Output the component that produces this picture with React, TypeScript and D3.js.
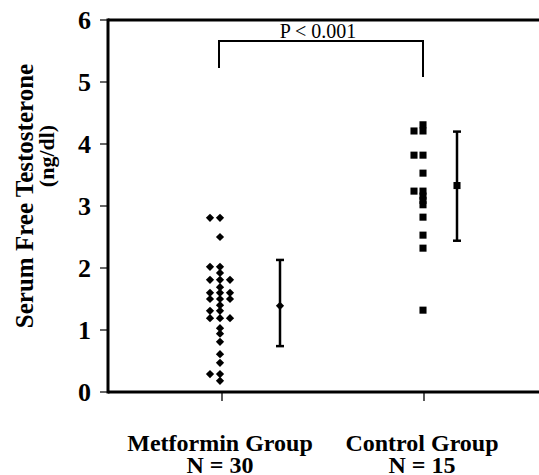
import React from "react";
import * as d3 from "d3";

const groups = ["Metformin Group", "Control Group"];
const groupN = ["N = 30", "N = 15"];
const yTicks = [0, 1, 2, 3, 4, 5, 6];

const metforminValues = [
  2.81, 2.81, 2.5, 2.02, 2.02, 1.92, 1.81, 1.81, 1.81, 1.69,
  1.6, 1.6, 1.6, 1.5, 1.5, 1.5, 1.4, 1.31, 1.31, 1.19,
  1.19, 1.19, 1.03, 0.94, 0.81, 0.61, 0.47, 0.29, 0.29, 0.18,
];
const controlValues = [
  4.31, 4.21, 4.21, 3.82, 3.82, 3.53, 3.24, 3.24, 3.16, 3.09,
  3.02, 2.82, 2.53, 2.32, 1.32,
];
const groupMeans = [1.39, 3.33];
const groupLow = [0.74, 2.44];
const groupHigh = [2.13, 4.2];
const pLabel = "P < 0.001";

const W = 539;
const H = 475;
const left = 108;
const top = 20;
const bottom = 392;

const serif = `"Liberation Serif"`;
const bold = { fontFamily: serif, fontWeight: "bold" } as React.CSSProperties;

export default function App() {
  const y = d3.scaleLinear().domain([0, 6]).range([bottom, top]);
  const x = d3.scalePoint<string>().domain(groups).range([221, 423]);
  const colStep = [10, 9];
  const errOffset = [59, 34];

  const place = (vals: number[]) => {
    const counts = new Map<number, number>();
    const order = [0, -1, 1, -2, 2];
    return vals.map((v) => {
      const c = counts.get(v) || 0;
      counts.set(v, c + 1);
      return { v, col: order[c] };
    });
  };
  const met = place(metforminValues);
  const con = place(controlValues);

  const diamond = d3.symbol(d3.symbolSquare, 34)()!;
  const square = d3.symbol(d3.symbolSquare, 50)()!;

  const x0 = x(groups[0])!;
  const x1 = x(groups[1])!;

  return (
    <svg width={W} height={H} style={{ position: "absolute", left: 0, top: 0, background: "#fff" }}>
      <rect width={W} height={H} fill="#fff" />
      {/* frame */}
      <line x1={left} x2={W} y1={top} y2={top} stroke="#000" strokeWidth={3} />
      <line x1={left} x2={W} y1={bottom} y2={bottom} stroke="#000" strokeWidth={3} />
      <line x1={left} x2={left} y1={top - 1.5} y2={bottom + 1.5} stroke="#000" strokeWidth={3} />
      {/* y ticks */}
      {yTicks.map((t) => (
        <g key={t}>
          <line x1={left - 8} x2={left} y1={y(t)} y2={y(t)} stroke="#000" strokeWidth={1.2} />
          <text x={91} y={y(t)} dy="0.35em" textAnchor="end" fontSize={26} style={bold}>
            {t}
          </text>
        </g>
      ))}
      {/* x ticks */}
      {groups.map((g) => (
        <line key={g} x1={x(g)! + 1} x2={x(g)! + 1} y1={bottom} y2={bottom + 9} stroke="#000" strokeWidth={1.3} />
      ))}
      {/* x labels */}
      {groups.map((g, i) => (
        <g key={g}>
          <text x={x(g)! - 1} y={451} textAnchor="middle" fontSize={24} style={bold}>
            {g}
          </text>
          <text x={x(g)! - 1} y={473} textAnchor="middle" fontSize={24} style={bold}>
            {groupN[i]}
          </text>
        </g>
      ))}
      {/* y title */}
      <text transform={`translate(33,196) rotate(-90)`} textAnchor="middle" fontSize={25} style={bold}>
        Serum Free Testosterone
      </text>
      <text transform={`translate(54,156) rotate(-90)`} textAnchor="middle" fontSize={22} style={bold}>
        (ng/dl)
      </text>
      {/* significance bracket */}
      <path d={`M${x0 - 2},68 V41 H${x1} V77`} fill="none" stroke="#000" strokeWidth={2} />
      <text x={(x0 + x1) / 2 - 4} y={38} textAnchor="middle" fontSize={20} style={{ fontFamily: serif }}>
        {pLabel}
      </text>
      {/* metformin points */}
      {met.map((d, i) => (
        <path
          key={"m" + i}
          d={diamond}
          transform={`translate(${x0 - 1 + d.col * colStep[0]},${y(d.v)}) rotate(45)`}
          fill="#000"
        />
      ))}
      {/* control points */}
      {con.map((d, i) => (
        <path
          key={"c" + i}
          d={square}
          transform={`translate(${x1 + d.col * colStep[1]},${y(d.v)})`}
          fill="#000"
        />
      ))}
      {/* error bars */}
      {groups.map((g, i) => {
        const ex = x(g)! + errOffset[i];
        return (
          <g key={"e" + g} stroke="#000" strokeWidth={2.5}>
            <line x1={ex} x2={ex} y1={y(groupHigh[i])} y2={y(groupLow[i])} />
            <line x1={ex - 4} x2={ex + 4} y1={y(groupHigh[i])} y2={y(groupHigh[i])} />
            <line x1={ex - 4} x2={ex + 4} y1={y(groupLow[i])} y2={y(groupLow[i])} />
            <path
              d={i === 0 ? diamond : square}
              transform={`translate(${ex},${y(groupMeans[i])})${i === 0 ? " rotate(45)" : ""}`}
              fill="#000"
              stroke="none"
            />
          </g>
        );
      })}
    </svg>
  );
}
